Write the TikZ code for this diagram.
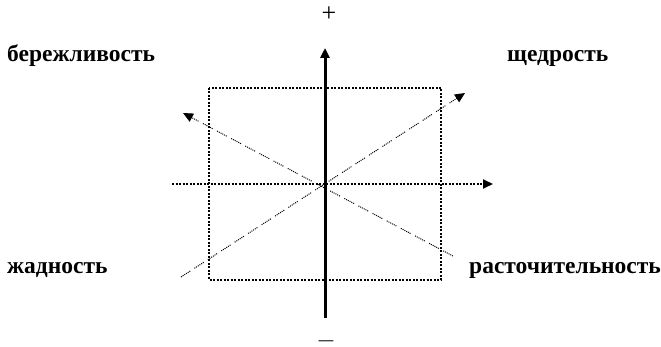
\documentclass[tikz,border=0pt]{standalone}
\usepackage{fontspec}
\setmainfont{Liberation Serif}
\usetikzlibrary{arrows.meta}

\begin{document}
\begin{tikzpicture}[
      x=1pt, y=-1pt,
      >={Triangle[length=10pt,width=9pt]},
      word/.style={font=\bfseries\fontsize{23.5}{23.5}\selectfont, inner sep=0pt, anchor=base west},
      sign/.style={font=\fontsize{26}{26}\selectfont, inner sep=0pt},
      frame/.style={line width=2pt, dash pattern=on 2pt off 1.5pt},
      axis/.style={line width=3pt},
      haxis/.style={line width=2pt, dash pattern=on 2pt off 1.5pt},
      diag/.style={line width=1pt, dash pattern=on 1pt off 1pt on 1pt off 1pt on 1pt off 1pt on 1pt off 1pt on 1pt off 1pt on 1pt off 5pt}
  ]
    \useasboundingbox (0,0) rectangle (661,347);

    % axes
    \coordinate (o) at (325,184);
    \coordinate (top) at (325,48);
    \coordinate (bot) at (325,318);
    \coordinate (left) at (172,184);
    \coordinate (right) at (493,184);

    \draw[frame] (209,88) rectangle (441,280);
    \draw[haxis, ->] (left) -- (right);
    \draw[axis, ->] (bot) -- (top);

    % diagonals
    \coordinate (d1a) at (453,256);
    \coordinate (d1b) at (183,113);
    \coordinate (d2a) at (181,277);
    \coordinate (d2b) at (465,93);
    \draw[diag, ->] (d1a) -- (d1b);
    \draw[diag, ->] (d2a) -- (d2b);

    \node[sign] (plus) at (329,14) {+};
    \node[sign] (minus) at (326,341) {$-$};

    \node[word] (berezh) at (7,62) {бережливость};
    \node[word] (shchedr) at (507,62) {щедрость};
    \node[word] (zhadn) at (7,274) {жадность};
    \node[word] (rastoch) at (469,274) {расточительность};
\end{tikzpicture}
\end{document}
